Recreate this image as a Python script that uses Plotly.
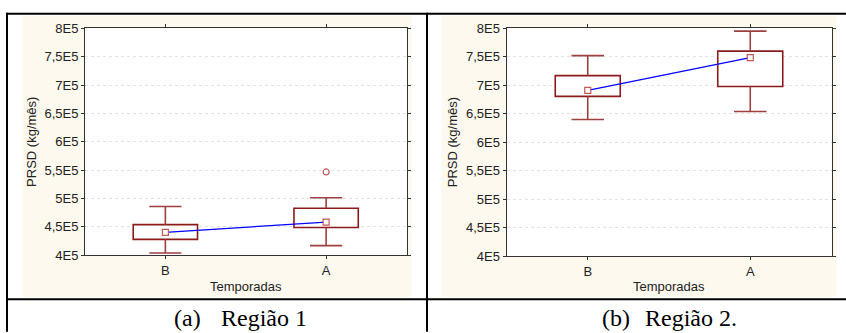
import plotly.graph_objects as go

# ---- data -------------------------------------------------------------
categories = ["B", "A"]

# Região 1: quartis, limites sem outliers, mediana e outlier
r1_q1 = [428000, 449000]
r1_q3 = [454000, 483000]
r1_low = [404000, 417000]
r1_high = [486000, 501500]
r1_median = [440500, 458500]
r1_outlier_cat = [1]
r1_outlier_val = [547000]

# Região 2
r2_q1 = [680500, 698000]
r2_q3 = [717000, 760000]
r2_low = [640000, 654000]
r2_high = [752000, 795000]
r2_median = [691000, 748500]

y_ticks = [400000, 450000, 500000, 550000, 600000, 650000, 700000, 750000, 800000]
y_ticktext = ["4E5", "4,5E5", "5E5", "5,5E5", "6E5", "6,5E5", "7E5", "7,5E5", "8E5"]

y_title = "PRSD (kg/mês)"
x_title = "Temporadas"

# ---- styling ----------------------------------------------------------
W, H = 846, 333
BOX_W = 0.4
CAP_HALF = 0.1
BOX_COLOR = "#8b1a1a"
WHISKER_COLOR = "#9e4040"
MARK_EDGE = "#c05858"
BEIGE = "#fdf9ee"
SANS = "Liberation Sans, Arial, sans-serif"
SERIF = "Liberation Serif, Times New Roman, serif"


def px(x):
    return x / W


def py(y):
    return 1 - y / H


fig = go.Figure()


def add_panel(xa, ya, q1, q3, low, high, med, out_cat=None, out_val=None):
    pos = list(range(len(categories)))
    # box body
    fig.add_trace(go.Bar(
        x=pos, y=[b - a for a, b in zip(q1, q3)], base=q1, width=BOX_W,
        marker=dict(color="white", line=dict(color=BOX_COLOR, width=1.6)),
        xaxis=xa, yaxis=ya, showlegend=False, hoverinfo="skip"))
    # whiskers and caps
    wx, wy = [], []
    for i in pos:
        wx += [i, i, None, i, i, None,
               i - CAP_HALF, i + CAP_HALF, None, i - CAP_HALF, i + CAP_HALF, None]
        wy += [q3[i], high[i], None, q1[i], low[i], None,
               high[i], high[i], None, low[i], low[i], None]
    fig.add_trace(go.Scatter(
        x=wx, y=wy, mode="lines", line=dict(color=WHISKER_COLOR, width=1.6),
        xaxis=xa, yaxis=ya, showlegend=False, hoverinfo="skip"))
    # medians joined by a line
    fig.add_trace(go.Scatter(
        x=pos, y=med, mode="lines+markers",
        line=dict(color="#0000ff", width=1.2),
        marker=dict(symbol="square", size=6, color="white",
                    line=dict(color=MARK_EDGE, width=1.2)),
        xaxis=xa, yaxis=ya, showlegend=False))
    if out_cat:
        fig.add_trace(go.Scatter(
            x=out_cat, y=out_val, mode="markers",
            marker=dict(symbol="circle", size=6, color="white",
                        line=dict(color=MARK_EDGE, width=1.2)),
            xaxis=xa, yaxis=ya, showlegend=False))


add_panel("x", "y", r1_q1, r1_q3, r1_low, r1_high, r1_median,
          r1_outlier_cat, r1_outlier_val)
add_panel("x2", "y2", r2_q1, r2_q3, r2_low, r2_high, r2_median)

x1dom = [px(85), px(406.5)]
y1dom = [py(260), py(22.5)]
x2dom = [px(506.5), px(831.5)]
y2dom = [py(261), py(22.3)]

axis_common = dict(showline=True, linecolor="#333333", linewidth=1, mirror="ticks",
                   ticks="outside", ticklen=3, tickcolor="#333333", zeroline=False,
                   tickfont=dict(family=SANS, size=13, color="#222222"))

xaxis_cfg = dict(range=[-0.5, 1.5], tickvals=list(range(len(categories))),
                 ticktext=categories, showgrid=False, **axis_common)
yaxis_cfg = dict(range=[y_ticks[0], y_ticks[-1]], tickvals=y_ticks, ticktext=y_ticktext,
                 showgrid=True, gridcolor="#e2e2e2", griddash="dot", gridwidth=1,
                 **axis_common)

fig.update_layout(
    width=W, height=H, margin=dict(l=0, r=0, t=0, b=0),
    paper_bgcolor="white", plot_bgcolor="white",
    xaxis=dict(domain=x1dom, anchor="y", **xaxis_cfg),
    yaxis=dict(domain=y1dom, anchor="x", **yaxis_cfg),
    xaxis2=dict(domain=x2dom, anchor="y2", **xaxis_cfg),
    yaxis2=dict(domain=y2dom, anchor="x2", **yaxis_cfg),
)

shapes = []
# beige panels with white plotting areas on top
for bx0, bx1, dx, dy in [(22, 411.7, x1dom, y1dom), (441.7, 836.7, x2dom, y2dom)]:
    shapes.append(dict(type="rect", xref="paper", yref="paper", layer="below",
                       x0=px(bx0), x1=px(bx1), y0=py(303.3), y1=py(9.5),
                       fillcolor=BEIGE, line=dict(width=0)))
    shapes.append(dict(type="rect", xref="paper", yref="paper", layer="below",
                       x0=dx[0], x1=dx[1], y0=dy[0], y1=dy[1],
                       fillcolor="white", line=dict(width=0)))
# table rules
for x0, y0, x1, y1 in [(7, 6, 7, 340), (6, 7, 850, 7), (427, 6, 427, 340),
                       (6, 306, 850, 306)]:
    shapes.append(dict(type="line", xref="paper", yref="paper", layer="above",
                       x0=px(x0), x1=px(x1), y0=py(y0), y1=py(y1),
                       line=dict(color="black", width=2)))
fig.update_layout(shapes=shapes)

ann = []
for xt, dx, dy in [(32, x1dom, y1dom), (452, x2dom, y2dom)]:
    ann.append(dict(text=y_title, xref="paper", yref="paper", x=px(xt),
                    y=(dy[0] + dy[1]) / 2, textangle=-90, showarrow=False,
                    xanchor="center", yanchor="middle",
                    font=dict(family=SANS, size=13, color="#222222")))
    ann.append(dict(text=x_title, xref="paper", yref="paper",
                    x=(dx[0] + dx[1]) / 2, y=py(293), showarrow=False,
                    xanchor="center", yanchor="middle",
                    font=dict(family=SANS, size=13, color="#222222")))
for txt, xl in [("(a)", 171.5), ("Região 1", 219), ("(b)", 600), ("Região 2.", 642.5)]:
    ann.append(dict(text=txt, xref="paper", yref="paper", x=px(xl), y=py(326),
                    showarrow=False, xanchor="left", yanchor="middle",
                    font=dict(family=SERIF, size=24, color="black")))
fig.update_layout(annotations=ann)

fig.write_html("out.html")
